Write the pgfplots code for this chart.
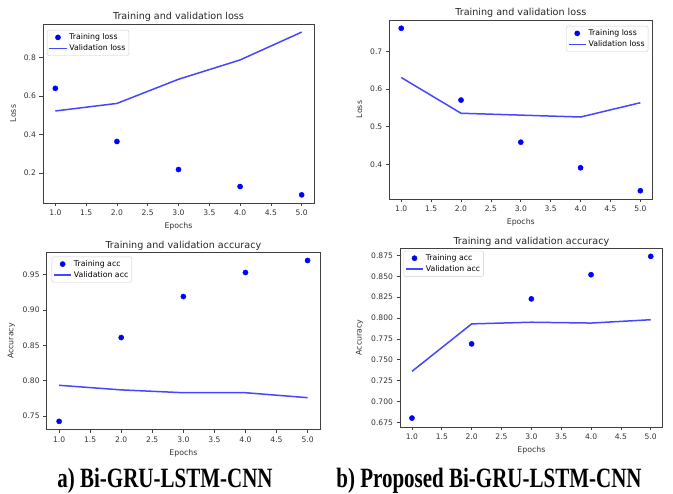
\documentclass[border=0pt]{standalone}
\usepackage{fontspec}
\setmainfont{DejaVu Sans}
\newfontfamily\capfont{Liberation Serif}
\usepackage{graphicx}
\usepackage{pgfplots}
\pgfplotsset{compat=1.18}

\definecolor{valblue}{RGB}{70,70,255}
\pgfplotsset{
  mpl/.style={
    scale only axis,
    anchor=south west,
    xmin=0.8, xmax=5.2,
    xtick={1,1.5,2,2.5,3,3.5,4,4.5,5},
    scaled ticks=false,
    axis line style={black!75, line width=0.8pt},
    tick align=outside,
    tick pos=left,
    major tick length=3.5pt,
    tick style={black!75, line width=0.7pt},
    tick label style={font=\fontsize{7.6}{8}\selectfont, text=black!80},
    /pgf/number format/assume math mode=true,
    xticklabel style={/pgf/number format/fixed, /pgf/number format/fixed zerofill, /pgf/number format/precision=1},
    label style={font=\fontsize{7.8}{8}\selectfont, text=black!80},
    every axis title shift=0pt,
    title style={font=\fontsize{9.6}{10}\selectfont, text=black!85, yshift=-1.5pt},
    ylabel style={xshift=0pt, yshift=1pt},
    xlabel={Epochs},
    legend cell align=left,
    legend style={font=\fontsize{7.8}{9}\selectfont, draw=black!20, rounded corners=2pt, fill=white, inner sep=1.5pt, row sep=-0.5pt},
  },
  train/.style={only marks, mark=*, mark size=2.6pt, color=blue, mark options={draw=blue, fill=blue}},
  val/.style={no marks, color=valblue, line width=1.5pt},
}

\begin{document}
\begin{tikzpicture}
\useasboundingbox (0,0) rectangle (673pt,494pt);

% a) loss
\begin{axis}[mpl, at={(43pt,291pt)}, width=271pt, height=179pt,
  ymin=0.0459, ymax=0.972, ytick={0.2,0.4,0.6,0.8},
  yticklabel style={/pgf/number format/fixed, /pgf/number format/fixed zerofill, /pgf/number format/precision=1},
  title={Training and validation loss}, ylabel={Loss},
  legend style={at={(0,1)}, anchor=north west, xshift=4pt, yshift=-6pt}]
\addplot[train] coordinates {(1,0.639) (2,0.364) (3,0.219) (4,0.131) (5,0.088)};
\addlegendentry{Training loss}
\addplot[val] coordinates {(1,0.522) (2,0.561) (3,0.686) (4,0.786) (5,0.930)};
\addlegendentry{Validation loss}
\end{axis}

% b) loss
\begin{axis}[mpl, at={(389.3pt,295pt)}, width=263pt, height=179pt,
  ymin=0.308, ymax=0.784, ytick={0.4,0.5,0.6,0.7},
  yticklabel style={/pgf/number format/fixed, /pgf/number format/fixed zerofill, /pgf/number format/precision=1},
  title={Training and validation loss}, ylabel={Loss},
  legend style={at={(1,1)}, anchor=north east, xshift=-4pt, yshift=-6pt}]
\addplot[train] coordinates {(1,0.762) (2,0.571) (3,0.459) (4,0.391) (5,0.330)};
\addlegendentry{Training loss}
\addplot[val] coordinates {(1,0.631) (2,0.536) (3,0.531) (4,0.526) (5,0.564)};
\addlegendentry{Validation loss}
\end{axis}

% a) accuracy
\begin{axis}[mpl, at={(46.7pt,64.5pt)}, width=273.3pt, height=176.8pt,
  ymin=0.731, ymax=0.981, ytick={0.75,0.8,0.85,0.9,0.95},
  yticklabel style={/pgf/number format/fixed, /pgf/number format/fixed zerofill, /pgf/number format/precision=2},
  title={Training and validation accuracy}, ylabel={Accuracy},
  legend style={at={(0,1)}, anchor=north west, xshift=5pt, yshift=-4pt}]
\addplot[train] coordinates {(1,0.7425) (2,0.861) (3,0.919) (4,0.953) (5,0.970)};
\addlegendentry{Training acc}
\addplot[val] coordinates {(1,0.7935) (2,0.787) (3,0.783) (4,0.783) (5,0.776)};
\addlegendentry{Validation acc}
\end{axis}

% b) accuracy
\begin{axis}[mpl, at={(400pt,67pt)}, width=262.7pt, height=178.7pt,
  ymin=0.6693, ymax=0.8837, ytick={0.675,0.7,0.725,0.75,0.775,0.8,0.825,0.85,0.875},
  yticklabel style={/pgf/number format/fixed, /pgf/number format/fixed zerofill, /pgf/number format/precision=3},
  title={Training and validation accuracy}, ylabel={Accuracy},
  legend style={at={(0,1)}, anchor=north west, xshift=3.5pt, yshift=-2.5pt}]
\addplot[train] coordinates {(1,0.680) (2,0.769) (3,0.823) (4,0.852) (5,0.874)};
\addlegendentry{Training acc}
\addplot[val] coordinates {(1,0.736) (2,0.793) (3,0.795) (4,0.794) (5,0.798)};
\addlegendentry{Validation acc}
\end{axis}

\node[anchor=base, inner sep=0pt] at (165pt,6.7pt) {\scalebox{1}[1.33]{\capfont\bfseries\fontsize{21}{21}\selectfont a) Bi-GRU-LSTM-CNN}};
\node[anchor=base, inner sep=0pt] at (489pt,6.7pt) {\scalebox{1}[1.33]{\capfont\bfseries\fontsize{21}{21}\selectfont b) Proposed Bi-GRU-LSTM-CNN}};
\end{tikzpicture}
\end{document}
